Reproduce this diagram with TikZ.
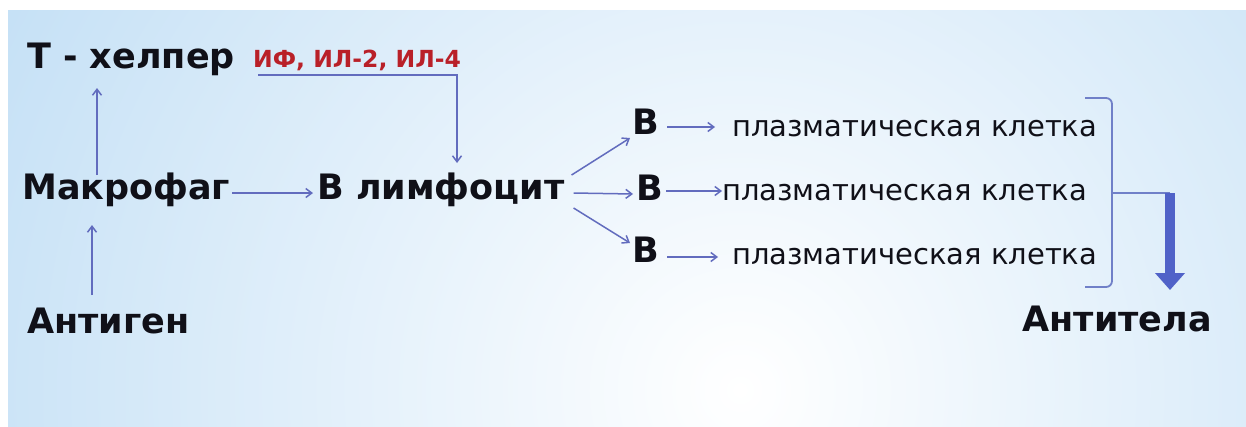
\documentclass[tikz,border=0pt]{standalone}
\usepackage{fontspec}
\setmainfont{DejaVu Sans}
\usetikzlibrary{arrows.meta,calc}
\definecolor{bgblue}{RGB}{198,225,246}
\definecolor{lnblue}{RGB}{98,108,190}
\definecolor{brblue}{RGB}{112,128,200}
\definecolor{thkblue}{RGB}{80,98,200}
\definecolor{cytred}{RGB}{185,32,40}
\definecolor{txtblack}{RGB}{16,16,24}
\begin{document}
\begin{tikzpicture}[x=1pt,y=-1pt,
  biglbl/.style={anchor=base west,inner sep=0pt,text=txtblack,font=\bfseries\fontsize{35}{40}\selectfont},
  cytlbl/.style={anchor=base west,inner sep=0pt,text=cytred,font=\bfseries\fontsize{23.5}{28}\selectfont},
  plaslbl/.style={anchor=base west,inner sep=0pt,text=txtblack,font=\fontsize{29}{34}\selectfont},
  arr/.style={draw=lnblue,line width=1.5pt,-{Straight Barb[length=6pt,width=9pt]}},
  bracketline/.style={draw=brblue,line width=1.8pt,rounded corners=6pt},
  thickarr/.style={draw=thkblue,line width=10pt,-{Triangle[length=17pt,width=29pt]}}]
\useasboundingbox (0,0) rectangle (1246,426);
\fill[white] (0,0) rectangle (1246,426);
\begin{scope}
  \clip (8,10) rectangle (1246,426);
  \fill[bgblue] (8,10) rectangle (1246,426);
  \shade[inner color=white,outer color=bgblue] (740,390) circle (820pt);
\end{scope}

% labels
\node[biglbl] (thelp) at (27,68) {Т - хелпер};
\node[cytlbl] (cyt) at (253,67) {ИФ, ИЛ-2, ИЛ-4};
\node[biglbl] (makro) at (22,199) {Макрофаг};
\node[biglbl] (blym) at (317,199) {В лимфоцит};
\node[biglbl] (antigen) at (27,333) {Антиген};
\node[biglbl,anchor=base east] (antitela) at (1212,331) {Антитела};

\node[biglbl] (b1) at (632,134) {В};
\node[biglbl] (b2) at (636,200) {В};
\node[biglbl] (b3) at (632,262) {В};
\node[plaslbl] (p1) at (732,136) {плазматическая клетка};
\node[plaslbl] (p2) at (722,200) {плазматическая клетка};
\node[plaslbl] (p3) at (732,264) {плазматическая клетка};

% connectors
\draw[arr] ($(makro.base west)+(75,-24)$) -- ($(thelp.base west)+(70,20)$);
\draw[arr] ($(antigen.base west)+(65,-38)$) -- ($(makro.base west)+(70,26)$);
\draw[arr] ($(cyt.base west)+(5,8)$) -| ($(blym.base west)+(140,-36)$);
\draw[arr] ($(makro.base east)+(2,-6)$) -- ($(blym.base west)+(-4,-6)$);

\draw[arr] ($(blym.base east)+(7,-24)$) -- ($(b1.base west)+(-2,4)$);
\draw[arr] ($(blym.base east)+(9,-6)$) -- ($(b2.base west)+(-3,-6)$);
\draw[arr] ($(blym.base east)+(9,9)$) -- ($(b3.base west)+(-2,-19)$);

\draw[arr] ($(b1.base east)+(8,-7)$) -- ($(p1.base west)+(-17,-9)$);
\draw[arr] ($(b2.base east)+(3,-9)$) -- ($(p2.base west)+(0,-9)$);
\draw[arr] ($(b3.base east)+(8,-5)$) -- ($(p3.base west)+(-14,-7)$);

% bracket
\coordinate (brmid) at (1112,193);
\coordinate (thtop) at (1170,193);
\coordinate (thtip) at (1170,290);
\draw[bracketline] (1085,98) -- (1112,98) -- (1112,287) -- (1085,287);
\draw[draw=brblue,line width=1.8pt] (brmid) -- (thtop);
\draw[thickarr] (thtop) -- (thtip);
\end{tikzpicture}
\end{document}
